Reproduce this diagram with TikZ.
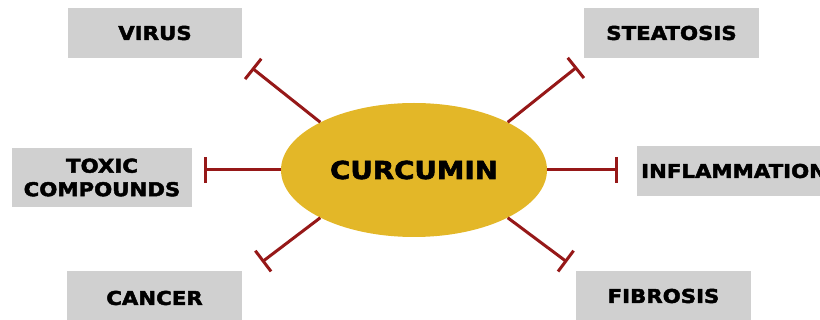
\documentclass[tikz,border=0pt]{standalone}
\usepackage{fontspec}
\setmainfont{DejaVu Sans}
\newfontfamily\lbl{DejaVu Sans}[FakeStretch=1.12, BoldFeatures={FakeBold=2.4}]
\usetikzlibrary{arrows.meta,shapes.geometric}
\definecolor{boxgray}{RGB}{208,208,208}
\definecolor{curgold}{RGB}{227,183,40}
\definecolor{inhib}{RGB}{150,24,24}
\begin{document}
\begin{tikzpicture}[x=1pt,y=-1pt,
  lbox/.style={fill=boxgray, inner sep=0pt, font=\lbl\bfseries\fontsize{19}{23.5}\selectfont, align=center},
  inh/.style={draw=inhib, line width=3pt, -{Bar[width=26pt]}}]
\useasboundingbox (0,0) rectangle (820,320);
\clip (0,0) rectangle (820,320);
\node[ellipse, fill=curgold, minimum width=266pt, minimum height=134pt, inner sep=0pt,
      font=\lbl\bfseries\fontsize{24.7}{28}\selectfont] (cur) at (414,170) {CURCUMIN};
\node[lbox, minimum width=174pt, minimum height=50pt] (virus) at (155,33) {VIRUS};
\node[lbox, minimum width=175pt, minimum height=50pt] (steat) at (671.5,33) {STEATOSIS};
\node[lbox, minimum width=180pt, minimum height=59pt] (toxic) at (102,177.5) {TOXIC\\COMPOUNDS};
\node[lbox, minimum height=50pt, anchor=west, inner xsep=4pt, text width=200pt, align=left] (infl) at (637,171) {INFLAMMATION};
\node[lbox, minimum width=175pt, minimum height=54pt] (cancer) at (154.5,298) {CANCER};
\node[lbox, minimum width=175pt, minimum height=50pt] (fib) at (663.5,296) {FIBROSIS};
\coordinate (vE) at (252,68);
\coordinate (sE) at (577,67);
\coordinate (tE) at (204,170);
\coordinate (iE) at (618,170);
\coordinate (cE) at (262,262);
\coordinate (fE) at (567,262);
\draw[inh] (cur.153) -- (vE);
\draw[inh] (cur.27) -- (sE);
\draw[inh] (cur.180) -- (tE);
\draw[inh] (cur.0) -- (iE);
\draw[inh] (cur.207) -- (cE);
\draw[inh] (cur.333) -- (fE);
\end{tikzpicture}
\end{document}
